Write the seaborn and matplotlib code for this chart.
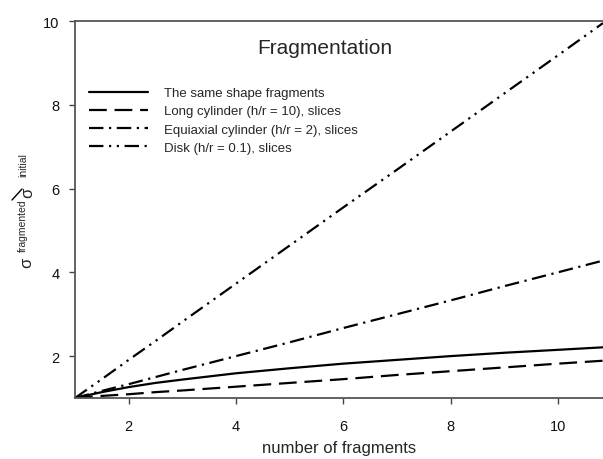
import matplotlib
matplotlib.use("Agg")
import matplotlib.pyplot as plt
import seaborn as sns
import pandas as pd
from matplotlib.lines import Line2D

# ---- data ----
n_fragments = [1, 1.5, 2, 2.5, 3, 4, 5, 6, 7, 8, 9, 10, 10.84]
same_shape = [1.00, 1.14, 1.26, 1.36, 1.44, 1.59, 1.71, 1.82, 1.91, 2.00, 2.08, 2.15, 2.21]
long_cyl = [1.00, 1.05, 1.09, 1.14, 1.18, 1.27, 1.36, 1.45, 1.55, 1.64, 1.73, 1.82, 1.89]
equiaxial = [1.00, 1.17, 1.33, 1.50, 1.67, 2.00, 2.33, 2.67, 3.00, 3.33, 3.67, 4.00, 4.28]
disk = [1.00, 1.45, 1.91, 2.36, 2.82, 3.73, 4.64, 5.55, 6.45, 7.36, 8.27, 9.18, 9.95]

labels = ["The same shape fragments",
          "Long cylinder (h/r = 10), slices",
          "Equiaxial cylinder (h/r = 2), slices",
          "Disk (h/r = 0.1), slices"]
x_ticks = [2, 4, 6, 8, 10]
y_ticks = [2, 4, 6, 8, 10]

frames = []
for lab, vals in zip(labels, [same_shape, long_cyl, equiaxial, disk]):
    frames.append(pd.DataFrame({"n": n_fragments, "ratio": vals, "series": lab}))
df = pd.concat(frames, ignore_index=True)

sns.set_theme(style="ticks")
plt.rcParams["font.family"] = ["Liberation Sans", "DejaVu Sans"]

W, H = 603, 460
fig = plt.figure(figsize=(W / 100, H / 100), dpi=100)
ax = fig.add_axes([75 / W, 1 - 399 / H, (W - 75) / W, (399 - 22) / H])

dash_map = {
    labels[0]: "",
    labels[1]: (8, 3.5),
    labels[2]: (6.5, 2.5, 1, 2.5),
    labels[3]: (6.5, 2.5, 1, 2.5, 1, 2.5),
}
palette = {lab: "black" for lab in labels}
sns.lineplot(data=df, x="n", y="ratio", hue="series", style="series",
             hue_order=labels, style_order=labels, palette=palette,
             dashes=dash_map, linewidth=1.6, ax=ax, legend=False)

ax.set_xlim(1, 10.84)
ax.set_ylim(1, 10)
ax.set_xticks(x_ticks)
ax.set_yticks(y_ticks)
ax.tick_params(axis="both", direction="out", length=4, width=1, color="#444444",
               labelsize=10.5, labelcolor="#111111")
ax.tick_params(axis="x", pad=11)
ax.tick_params(axis="y", pad=7)
ax.spines["right"].set_visible(False)
for s in ["left", "bottom", "top"]:
    ax.spines[s].set_color("#555555")
    ax.spines[s].set_linewidth(1.3)
ax.set_xlabel("number of fragments", fontsize=12, labelpad=5)
ax.set_ylabel("")
ax.grid(False)

ax.text((325 - 75) / (W - 75), 1 - (48 - 22) / (399 - 22), "Fragmentation",
        transform=ax.transAxes, ha="center", va="center", fontsize=15)

handles = []
for lab in labels:
    d = dash_map[lab]
    if d == "":
        h = Line2D([], [], color="black", lw=1.6, linestyle="-")
    else:
        h = Line2D([], [], color="black", lw=1.6, linestyle=(0, d))
    handles.append(h)
leg = ax.legend(handles, labels, loc="upper left",
                bbox_to_anchor=((89 - 75) / (W - 75), 1 - (88 - 22) / (399 - 22)),
                frameon=False, fontsize=9.5, handlelength=4.5, handletextpad=1.2,
                labelspacing=0.45, borderaxespad=0, borderpad=0)

# y-axis label pieces (sigma_fragmented / sigma_initial), rotated
def ftxt(x, y, s, size):
    fig.text(x / W, 1 - y / H, s, rotation=90, ha="center", va="center",
             fontsize=size, transform=fig.transFigure)

ftxt(27, 263, "σ", 12)
ftxt(23, 226, "fragmented", 7.5)
ftxt(28, 193, "σ", 12)
ftxt(23, 165, "initial", 7.5)
fig.add_artist(Line2D([12 / W, 22 / W], [1 - 201 / H, 1 - 190 / H],
                      transform=fig.transFigure, color="black", lw=1.0))

fig.savefig("out.png", dpi=100)
